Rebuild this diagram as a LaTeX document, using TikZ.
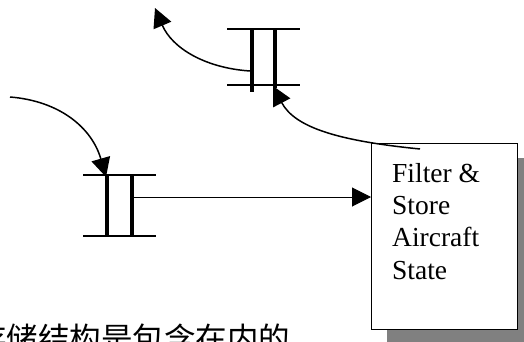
\documentclass[tikz,border=0pt]{standalone}
\usepackage{fontspec}
\setmainfont{Liberation Serif}
\newfontfamily\cjk{Noto Sans CJK SC}
\usetikzlibrary{arrows.meta,shadows}

\tikzset{
  storeline/.style={line width=1.2pt},
  storebar/.style={line width=4.5pt},
  flow/.style={line width=1.5pt,-{Triangle[length=19pt,width=19pt]}},
  procbox/.style={draw,line width=1.2pt,fill=white,minimum width=146pt,minimum height=186pt,inner sep=0pt,
    drop shadow={shadow xshift=15pt,shadow yshift=-14pt,fill=black!50,opacity=1}},
}

\begin{document}
\begin{tikzpicture}[x=1pt,y=-1pt]
\useasboundingbox (0,0) rectangle (524,342);
\clip (0,0) rectangle (524,342);
\node[procbox,anchor=north west] (state) at (371,143) {};
\node[anchor=north west,inner sep=0pt,align=left,font=\fontsize{27.5}{32.3}\selectfont] (statetext) at (392,163) {Filter \&\\Store\\Aircraft\\State};
\draw[storeline] (227,29) -- (300,29);
\draw[storeline] (227,85) -- (300,85);
\draw[storebar] (252,29) -- (252,92);
\draw[storebar] (275,29) -- (275,88);
\draw[storeline] (83,175) -- (156,175);
\draw[storeline] (83,236) -- (156,236);
\draw[storebar] (107,175) -- (107,236);
\draw[storebar] (132,175) -- (132,236);
\coordinate (topout) at (250,71);
\coordinate (topin) at (273,86);
\coordinate (upend) at (155,8);
\coordinate (boxout) at (420,149);
\coordinate (leftstart) at (10,97);
\coordinate (lowin) at (106,177);
\coordinate (lowout) at (134,197);
\draw[flow] (topout) .. controls (205,68) and (172,48) .. (upend);
\draw[flow] (boxout) .. controls (340,141) and (295,128) .. (topin);
\draw[flow] (leftstart) .. controls (60,101) and (92,128) .. (lowin);
\draw[flow,line width=1pt] (lowout) -- (lowout -| state.west);
\node[anchor=base west,inner sep=0pt,font=\cjk\fontsize{31.5}{31.5}\selectfont] (note) at (-25,350) {存储结构是包含在内的};
\end{tikzpicture}
\end{document}
